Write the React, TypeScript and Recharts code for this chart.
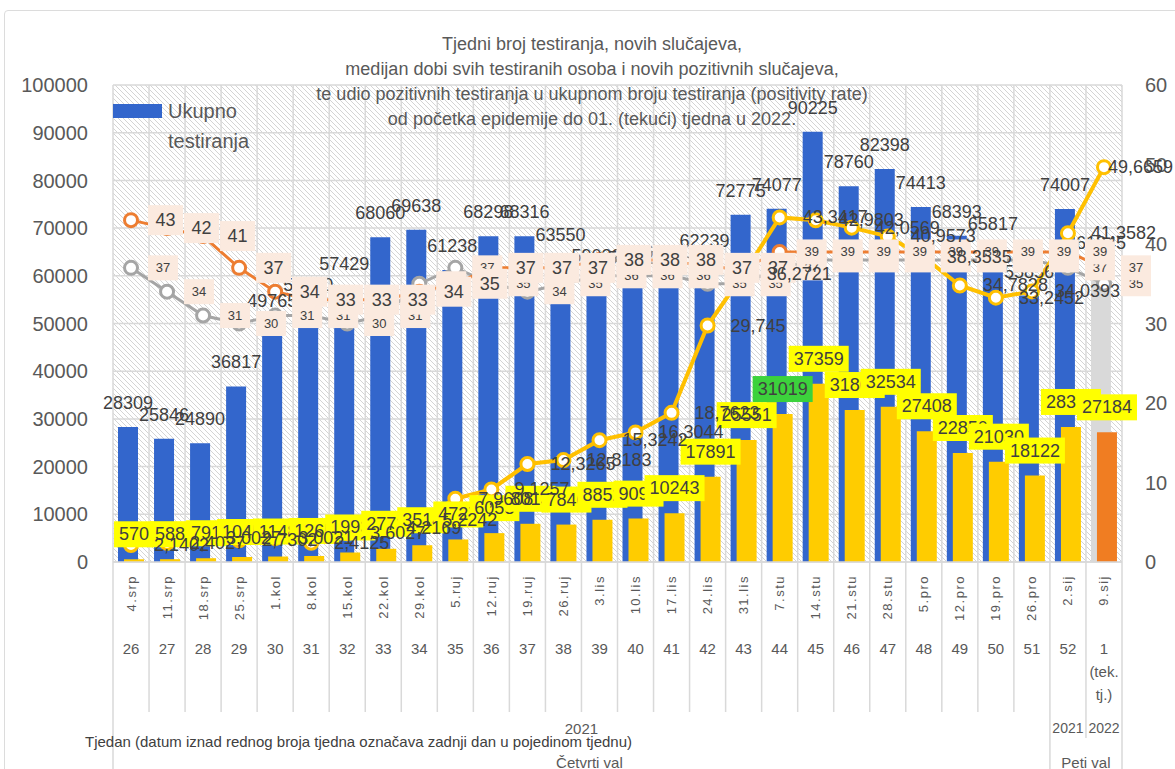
import React from 'react';
import { ComposedChart, Bar, Line, XAxis, YAxis, CartesianGrid, Cell, LabelList } from 'recharts';

const weeks = ['26','27','28','29','30','31','32','33','34','35','36','37','38','39','40','41','42','43','44','45','46','47','48','49','50','51','52','1'];
const dates = ['4.srp','11.srp','18.srp','25.srp','1.kol','8.kol','15.kol','22.kol','29.kol','5.ruj','12.ruj','19.ruj','26.ruj','3.lis','10.lis','17.lis','24.lis','31.lis','7.stu','14.stu','21.stu','28.stu','5.pro','12.pro','19.pro','26.pro','2.sij','9.sij'];
const tests = [28309,25846,24890,36817,49765,53000,57429,68060,69638,61238,68298,68316,63550,59032,58790,60020,62239,72775,74077,90225,78760,82398,74413,68393,65817,55856,74007,61845];
const cases = [570,588,791,1045,1148,1265,1993,2772,3514,4727,6053,8013,7846,8852,9095,10243,17891,25551,31019,37359,31860,32534,27408,22850,21030,18122,28310,27184];
const positivity = [2.1402,2.4027,3.0027,2.7302,3.0021,2.4125,3.6027,4.2169,5.2242,7.9608,9.1257,12.3265,12.8183,15.3242,16.3044,18.7623,29.745,36.2721,43.3417,42.9803,42.0569,40.9573,38.3535,34.7828,33.2452,34.0393,41.3582,49.6659];
const ageAllTested = [37,34,31,30,31,31,30,31,35,37,35,34,35,36,36,36,35,35,37,38,38,38,38,38,38,38,37,35];
const agePositive = [43,42,41,37,34,33,33,33,34,35,37,37,37,38,38,38,37,37,39,39,39,39,39,39,39,39,39,37];
const leftTicks = [0,10000,20000,30000,40000,50000,60000,70000,80000,90000,100000];
const rightTicks = [0,10,20,30,40,50,60];
const titleLines = [
  'Tjedni broj testiranja, novih slučajeva,',
  'medijan dobi svih testiranih osoba i novih pozitivnih slučajeva,',
  'te udio pozitivnih testiranja u ukupnom broju testiranja (positivity rate)',
  'od početka epidemije do 01. (tekući) tjedna u 2022.',
];

const data = weeks.map((w, i) => ({
  week: w,
  date: dates[i],
  tests: tests[i],
  cases: cases[i],
  positivity: positivity[i],
  ageAll: ageAllTested[i],
  agePos: agePositive[i],
}));

const FONT = '"Liberation Sans", Arial, sans-serif';
const TXT = '#404040';
const AX = '#595959';
const PEACH = '#FBEADF';
const GRID = '#D9D9D9';
const W = 1175;
const H = 769;
const M_TOP = 85;
const LEFT_W = 113;
const RIGHT_W = 53;
const X_H = 207;
const PLOT_W = W - LEFT_W - RIGHT_W;

const fmt = (v: number) => String(v).replace('.', ',');

const XTick = (props: any) => {
  const { x, y, payload } = props;
  const i: number = payload.index;
  const band = PLOT_W / dates.length;
  const h = band / 2;
  const y0 = y;
  const last = dates.length - 1;
  let sepBottom = y0 + 150;
  if (i === 25 || i === last) sepBottom = y0 + X_H;
  else if (i === 26) sepBottom = y0 + 176;
  const els: any[] = [];
  els.push(<line key="rs" x1={x + h} x2={x + h} y1={y0} y2={sepBottom} stroke={GRID} strokeWidth={1.5} />);
  if (i === 0) {
    els.push(<line key="ls" x1={x - h} x2={x - h} y1={y0} y2={y0 + X_H} stroke={GRID} strokeWidth={1.5} />);
    const cx = x - h + 26 * band / 2;
    els.push(<text key="y" x={cx} y={y0 + 166} textAnchor="middle" dominantBaseline="central" fontSize={15} fill={AX} fontFamily={FONT}>2021</text>);
    els.push(<text key="t" x={x - h - 28} y={y0 + 179} textAnchor="start" dominantBaseline="central" fontSize={15} fill={TXT} fontFamily={FONT}>Tjedan (datum iznad rednog broja tjedna označava zadnji dan u pojedinom tjednu)</text>);
    els.push(<text key="v" x={cx + 8} y={y0 + 200} textAnchor="middle" dominantBaseline="central" fontSize={15} fill={AX} fontFamily={FONT}>Četvrti val</text>);
  }
  if (i === 26) {
    els.push(<text key="y" x={x} y={y0 + 166} textAnchor="middle" dominantBaseline="central" fontSize={14} fill={AX} fontFamily={FONT}>2021</text>);
  }
  if (i === last) {
    els.push(<text key="y" x={x} y={y0 + 166} textAnchor="middle" dominantBaseline="central" fontSize={14} fill={AX} fontFamily={FONT}>2022</text>);
    els.push(<text key="v" x={x - h} y={y0 + 200} textAnchor="middle" dominantBaseline="central" fontSize={15} fill={AX} fontFamily={FONT}>Peti val</text>);
    els.push(<text key="t1" x={x} y={y0 + 109} textAnchor="middle" dominantBaseline="central" fontSize={15} fill={AX} fontFamily={FONT}>(tek.</text>);
    els.push(<text key="t2" x={x} y={y0 + 132} textAnchor="middle" dominantBaseline="central" fontSize={15} fill={AX} fontFamily={FONT}>tj.)</text>);
  }
  const ty = y0 + 13;
  els.push(
    <text key="d" x={x} y={ty} transform={`rotate(-90 ${x} ${ty})`} textAnchor="end" dominantBaseline="central" fontSize={13} letterSpacing={1.5} fill={AX} fontFamily={FONT}>{dates[i]}</text>
  );
  els.push(<text key="w" x={x} y={y0 + 86} textAnchor="middle" dominantBaseline="central" fontSize={15} fill={AX} fontFamily={FONT}>{weeks[i]}</text>);
  return <g>{els}</g>;
};

const TestsLabel = (p: any) => {
  const { x, y, value } = p;
  if (x == null || y == null) return null;
  return <text x={x - 3} y={y - 24} textAnchor="middle" dominantBaseline="central" fontSize={18} fill={TXT} fontFamily={FONT}>{value}</text>;
};

const CasesLabel = (p: any) => {
  const { x, y, value, index } = p;
  if (x == null || y == null) return null;
  const s = String(value);
  const w = s.length * 10 + 10;
  const cx = x + 3;
  const cy = y - 25;
  const bg = index === 18 ? '#3CD23C' : '#FFFF00';
  return (
    <g>
      <rect x={cx - w / 2} y={cy - 13} width={w} height={26} fill={bg} />
      <text x={cx} y={cy} textAnchor="middle" dominantBaseline="central" fontSize={18} fill={TXT} fontFamily={FONT}>{s}</text>
    </g>
  );
};

const AgeLabel = (big: boolean) => (p: any) => {
  const { x, y, value, index } = p;
  if (x == null || y == null) return null;
  const large = big && index < 18;
  const w = large ? 35 : 30;
  const hh = large ? 30 : 25;
  return (
    <g>
      <rect x={x + 17} y={y - hh / 2} width={w} height={hh} fill={PEACH} />
      <text x={x + 17 + w / 2} y={y} textAnchor="middle" dominantBaseline="central" fontSize={large ? 18 : 13} fill={TXT} fontFamily={FONT}>{value}</text>
    </g>
  );
};
const AgePosLabel = AgeLabel(true);
const AgeAllLabel = AgeLabel(false);

const PosLabel = (p: any) => {
  const { x, y, value, index } = p;
  if (x == null || y == null) return null;
  const dx = index === positivity.length - 1 ? 4 : 23;
  return <text x={x + dx} y={y} textAnchor="start" dominantBaseline="central" fontSize={18} fill={TXT} fontFamily={FONT}>{fmt(value)}</text>;
};

const dotStyle = (c: string) => ({ r: 6.5, fill: '#fff', stroke: c, strokeWidth: 3 });

export default function App() {
  return (
    <div style={{ position: 'absolute', left: 0, top: 0, width: W, height: H, background: '#fff', fontFamily: FONT, overflow: 'hidden' }}>
      <svg width={0} height={0} style={{ position: 'absolute' }}>
        <defs>
          <pattern id="hatch" patternUnits="userSpaceOnUse" width={5} height={5}>
            <rect width={5} height={5} fill="#fff" />
            <path d="M-1,-1 L6,6 M-1,4 L1,6 M4,-1 L6,1" stroke="#D4D4D4" strokeWidth={1} />
          </pattern>
        </defs>
      </svg>
      <div style={{ position: 'absolute', left: 4, top: 10, width: 1200, height: 800, border: '1.5px solid #DCDCDC', borderRadius: 4 }} />
      <div style={{ position: 'absolute', left: 0, top: 0 }}>
        <ComposedChart width={W} height={H} data={data} margin={{ top: M_TOP, right: 0, left: 0, bottom: 0 }} barGap={-14}>
          <CartesianGrid
            yAxisId="left"
            stroke={GRID}
            strokeWidth={1.5}
            fill="url(#hatch)"
            fillOpacity={1}
            verticalCoordinatesGenerator={({ offset }: any) =>
              Array.from({ length: dates.length + 1 }, (_, i) => offset.left + (i * offset.width) / dates.length)
            }
          />
          <XAxis dataKey="week" interval={0} height={X_H} tickSize={0} tickMargin={0} tickLine={false} axisLine={{ stroke: GRID, strokeWidth: 1.5 }} tick={<XTick />} />
          <YAxis yAxisId="left" orientation="left" width={LEFT_W} domain={[0, 100000]} ticks={leftTicks} interval={0} axisLine={false} tickLine={false} tickSize={0} tickMargin={25} tick={{ fontSize: 20, fill: AX, fontFamily: FONT }} />
          <YAxis yAxisId="right" orientation="right" width={RIGHT_W} domain={[0, 60]} ticks={rightTicks} interval={0} axisLine={false} tickLine={false} tickSize={0} tickMargin={23} tick={{ fontSize: 20, fill: AX, fontFamily: FONT }} />
          <Bar yAxisId="left" dataKey="tests" name="Ukupno testiranja" fill="#3366CC" barSize={20} isAnimationActive={false}>
            {data.map((d, i) => (
              <Cell key={i} fill={i === data.length - 1 ? '#D9D9D9' : '#3366CC'} />
            ))}
          </Bar>
          <Bar yAxisId="left" dataKey="cases" name="Novi slučajevi" fill="#FFCC00" barSize={20} isAnimationActive={false}>
            {data.map((d, i) => (
              <Cell key={i} fill={i === data.length - 1 ? '#F07D22' : '#FFCC00'} />
            ))}
          </Bar>
          <Line yAxisId="right" type="linear" dataKey="ageAll" stroke="#A5A5A5" strokeWidth={3} dot={dotStyle('#A5A5A5')} activeDot={false} isAnimationActive={false} />
          <Line yAxisId="right" type="linear" dataKey="agePos" stroke="#ED7D31" strokeWidth={3} dot={dotStyle('#ED7D31')} activeDot={false} isAnimationActive={false} />
          <Line yAxisId="right" type="linear" dataKey="positivity" stroke="#FFC000" strokeWidth={4} dot={dotStyle('#FFC000')} activeDot={false} isAnimationActive={false} />
          <Line yAxisId="left" dataKey="tests" stroke="none" dot={false} activeDot={false} legendType="none" isAnimationActive={false}>
            <LabelList dataKey="tests" content={<TestsLabel />} />
          </Line>
          <Line yAxisId="right" dataKey="ageAll" stroke="none" dot={false} activeDot={false} legendType="none" isAnimationActive={false}>
            <LabelList dataKey="ageAll" content={<AgeAllLabel />} />
          </Line>
          <Line yAxisId="right" dataKey="agePos" stroke="none" dot={false} activeDot={false} legendType="none" isAnimationActive={false}>
            <LabelList dataKey="agePos" content={<AgePosLabel />} />
          </Line>
          <Line yAxisId="left" dataKey="cases" stroke="none" dot={false} activeDot={false} legendType="none" isAnimationActive={false}>
            <LabelList dataKey="cases" content={<CasesLabel />} />
          </Line>
          <Line yAxisId="right" dataKey="positivity" stroke="none" dot={false} activeDot={false} legendType="none" isAnimationActive={false}>
            <LabelList dataKey="positivity" content={<PosLabel />} />
          </Line>
        </ComposedChart>
      </div>
      <div style={{ position: 'absolute', left: 242, top: 32, width: 700, textAlign: 'center', fontSize: 18, lineHeight: '25px', color: AX, fontFamily: FONT, pointerEvents: 'none' }}>
        {titleLines.map((t, i) => (
          <div key={i}>{t}</div>
        ))}
      </div>
      <div style={{ position: 'absolute', left: 113, top: 104, width: 49, height: 14, background: '#3366CC' }} />
      <div style={{ position: 'absolute', left: 168, top: 96, fontSize: 20, lineHeight: '30px', color: AX, fontFamily: FONT }}>
        <div>Ukupno</div>
        <div>testiranja</div>
      </div>
    </div>
  );
}
